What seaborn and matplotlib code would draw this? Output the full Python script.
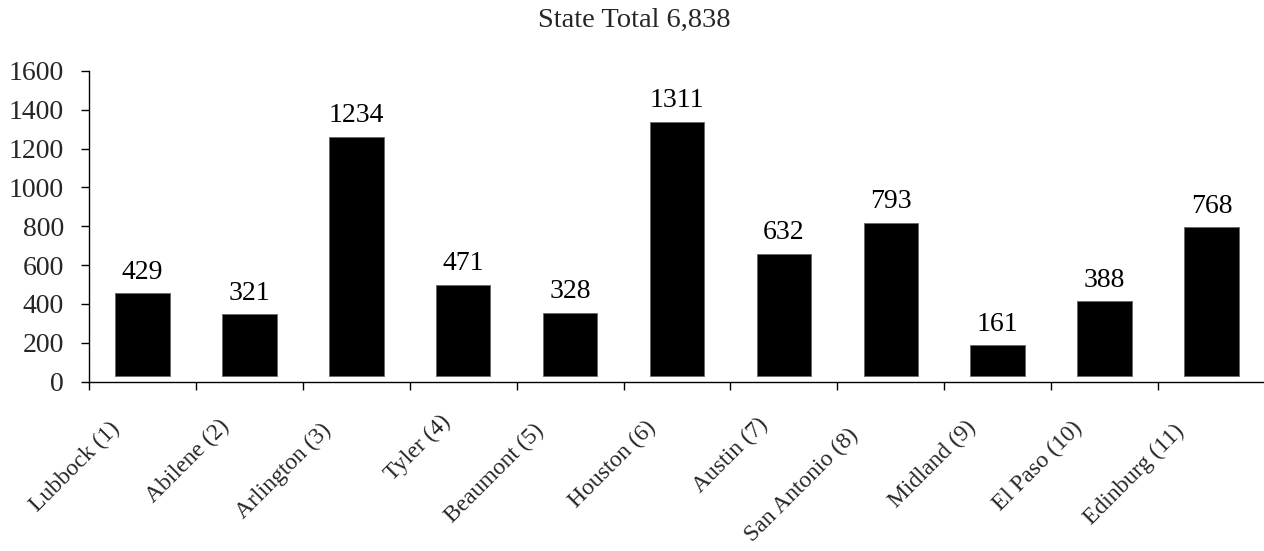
import matplotlib
matplotlib.use("Agg")
import matplotlib.pyplot as plt
from matplotlib.transforms import ScaledTranslation
import seaborn as sns
import pandas as pd

categories = ["Lubbock (1)", "Abilene (2)", "Arlington (3)", "Tyler (4)", "Beaumont (5)",
              "Houston (6)", "Austin (7)", "San Antonio (8)", "Midland (9)", "El Paso (10)",
              "Edinburg (11)"]
values = [429, 321, 1234, 471, 328, 1311, 632, 793, 161, 388, 768]
yticks = [0, 200, 400, 600, 800, 1000, 1200, 1400, 1600]
title = "State Total 6,838"
bar_base = 26  # bars float slightly above the axis in the reference

sns.set_theme(style="white")
plt.rcParams['font.family'] = ['Liberation Serif', 'DejaVu Serif']

df = pd.DataFrame({"region": categories, "count": values})

DPI = 100
fig = plt.figure(figsize=(12.64, 5.51), dpi=DPI)
ax = fig.add_axes([89/1264, 169.5/551, (1265-89)/1264, (381.5-71)/551])

sns.barplot(data=df, x="region", y="count", color="black", width=0.51,
            saturation=1, ax=ax, edgecolor="#666666", linewidth=0.6)

for p in ax.patches:
    p.set_y(bar_base)

for i, v in enumerate(values):
    ax.annotate(str(v), xy=(i, v + bar_base), xytext=(0, 10.5), textcoords="offset points",
                ha="center", va="baseline", fontsize=20, color="black")

ax.set_ylim(0, 1600)
ax.set_xlim(-0.5, len(categories) - 0.5)
ax.set_yticks(yticks)
ax.set_yticklabels([str(t) for t in yticks], fontsize=20)
ax.set_xlabel("")
ax.set_ylabel("")

# boundary ticks for x
ax.set_xticks([i - 0.5 for i in range(len(categories) + 1)])
ax.set_xticklabels([])
ax.tick_params(axis="x", which="major", direction="out", length=6, width=1, color="black", bottom=True)
ax.set_xticks(range(len(categories)), minor=True)
ax.set_xticklabels(categories, minor=True, rotation=45, ha="right", va="center",
                   rotation_mode="anchor", fontsize=17)
ax.tick_params(axis="x", which="minor", length=0, pad=0)
ax.tick_params(axis="y", direction="out", length=6, width=1, color="black", left=True, pad=12)

for s in ["top", "right"]:
    ax.spines[s].set_visible(False)
for s in ["left", "bottom"]:
    ax.spines[s].set_color("black")
    ax.spines[s].set_linewidth(1)

fig.text(634/1264, 1 - 27/551, title, ha="center", va="baseline", fontsize=20.5)

# Excel-like placement of rotated category labels: longer labels sit further down-left
fig.canvas.draw()
renderer = fig.canvas.get_renderer()
for lab in ax.get_xticklabels(minor=True):
    w = lab.get_window_extent(renderer).width
    dx_px = 14.4 - 0.41 * w
    dy_px = -(17.0 + 0.273 * w)
    lab.set_transform(lab.get_transform() +
                      ScaledTranslation(dx_px / DPI, dy_px / DPI, fig.dpi_scale_trans))

fig.savefig("out.png", dpi=DPI)
